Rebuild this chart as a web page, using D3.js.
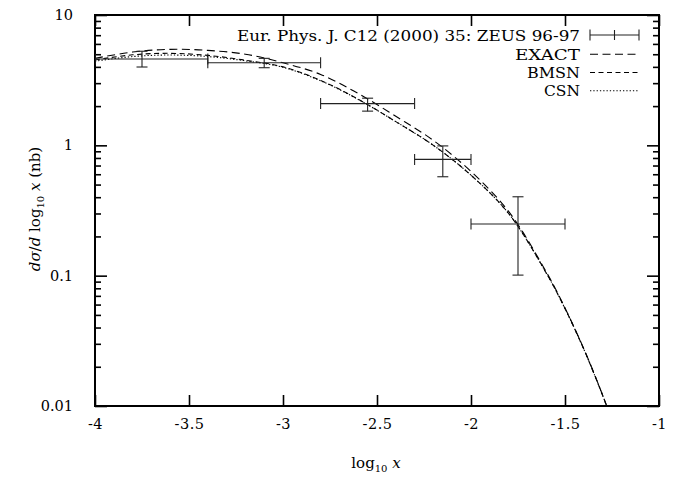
<!DOCTYPE html>
<html><head><meta charset="utf-8">
<script src="https://cdn.jsdelivr.net/npm/d3@7"></script>
</head><body style="margin:0;background:#fff"><svg id="c" width="679" height="482"></svg>
<script>
// ZEUS data points
const dataX    = [-3.75, -3.1, -2.55, -2.15, -1.75];
const dataXlo  = [-4.0, -3.4, -2.8, -2.3, -2.0];
const dataXhi  = [-3.4, -2.8, -2.3, -2.0, -1.5];
const dataY    = [4.6, 4.3, 2.09, 0.78, 0.249];
const dataYlo  = [3.99, 3.94, 1.83, 0.574, 0.101];
const dataYhi  = [5.27, 4.65, 2.30, 0.99, 0.403];
// theory curves
const curveX   = [-4, -3.8, -3.6, -3.4, -3.2, -3.0, -2.8, -2.6, -2.4, -2.2, -2.0, -1.8, -1.6, -1.5, -1.4, -1.331, -1.278];
const exact    = [4.65, 5.2, 5.45, 5.35, 5.0, 4.3, 3.5, 2.5, 1.67, 1.09, 0.63, 0.311, 0.107, 0.0566, 0.0275, 0.0158, 0.01];
const bmsn     = [4.52, 4.95, 5.08, 4.9, 4.5, 4.0, 3.15, 2.26, 1.52, 1.0, 0.59, 0.30, 0.105, 0.0560, 0.0273, 0.0157, 0.01];
const csn      = [4.42, 4.8, 4.93, 4.8, 4.45, 3.97, 3.13, 2.25, 1.52, 1.0, 0.59, 0.30, 0.105, 0.0560, 0.0273, 0.0157, 0.01];
const xTicks   = [-4, -3.5, -3, -2.5, -2, -1.5, -1];
const xTickLabels = ["-4", "-3.5", "-3", "-2.5", "-2", "-1.5", "-1"];
const yTicks   = [0.01, 0.1, 1, 10];
const yTickLabels = ["0.01", "0.1", "1", "10"];
const legendLabels = ["Eur. Phys. J. C12 (2000) 35: ZEUS 96-97", "EXACT", "BMSN", "CSN"];

const FONT = '"DejaVu Serif"';
const L = 95, R = 659, T = 15, B = 406;
const svg = d3.select("#c");
const x = d3.scaleLinear().domain([-4, -1]).range([L, R]);
const y = d3.scaleLog().domain([0.01, 10]).range([B, T]);

svg.append("defs").append("clipPath").attr("id", "clip")
  .append("rect").attr("x", L).attr("y", T).attr("width", R - L).attr("height", B - T);

const minor = [];
[0.01, 0.1, 1].forEach(d => { for (let k = 2; k <= 9; k++) minor.push(d * k); });

const axisStyle = g => g.attr("font-family", null).attr("font-size", null)
  .call(s => s.select(".domain").remove())
  .call(s => s.selectAll("line").attr("stroke", "#000").attr("stroke-width", 1.6));
const textStyle = g => g.selectAll("text").style("font-family", FONT).style("font-size", "14.5px")
  .style("letter-spacing", "0.5px").attr("fill", "#000");

// bottom
svg.append("g").attr("transform", `translate(0,${B})`)
  .call(d3.axisBottom(x).tickValues(xTicks).tickSize(-11).tickPadding(13).tickFormat((d, i) => xTickLabels[i]))
  .call(axisStyle).call(textStyle);
// top
svg.append("g").attr("transform", `translate(0,${T})`)
  .call(d3.axisTop(x).tickValues(xTicks).tickSize(-11).tickFormat(""))
  .call(axisStyle);
// left
svg.append("g").attr("transform", `translate(${L},0)`)
  .call(d3.axisLeft(y).tickValues(yTicks).tickSize(-12).tickPadding(22).tickFormat((d, i) => yTickLabels[i]))
  .call(axisStyle).call(textStyle).call(g => g.selectAll("text").style("letter-spacing", "0px"));
svg.append("g").attr("transform", `translate(${L},0)`)
  .call(d3.axisLeft(y).tickValues(minor).tickSize(-6).tickFormat(""))
  .call(axisStyle);
// right
svg.append("g").attr("transform", `translate(${R},0)`)
  .call(d3.axisRight(y).tickValues(yTicks).tickSize(-12).tickFormat(""))
  .call(axisStyle);
svg.append("g").attr("transform", `translate(${R},0)`)
  .call(d3.axisRight(y).tickValues(minor).tickSize(-6).tickFormat(""))
  .call(axisStyle);

// frame
svg.append("rect").attr("x", L).attr("y", T).attr("width", R - L).attr("height", B - T)
  .attr("fill", "none").attr("stroke", "#000").attr("stroke-width", 2);

// curves
const plot = svg.append("g").attr("clip-path", "url(#clip)");
const line = d3.line().x((d, i) => x(curveX[i])).y(d => y(d)).curve(d3.curveCatmullRom);
const series = [
  {v: exact, dash: "8,4.5"},
  {v: bmsn, dash: "5,3.5"},
  {v: csn, dash: "1.3,2"}
];
series.forEach(s => plot.append("path").attr("d", line(s.v)).attr("fill", "none")
  .attr("stroke", "#000").attr("stroke-width", 1.1).attr("stroke-dasharray", s.dash));

// error bars
const cap = 5.5;
const eb = plot.append("g").attr("stroke", "#222").attr("stroke-width", 1.1);
dataX.forEach((xv, i) => {
  const cx = x(xv), cy = y(dataY[i]);
  const x0 = x(dataXlo[i]), x1 = x(dataXhi[i]);
  const y0 = y(dataYlo[i]), y1 = y(dataYhi[i]);
  eb.append("line").attr("x1", x0).attr("x2", x1).attr("y1", cy).attr("y2", cy);
  eb.append("line").attr("x1", x0).attr("x2", x0).attr("y1", cy - cap).attr("y2", cy + cap);
  eb.append("line").attr("x1", x1).attr("x2", x1).attr("y1", cy - cap).attr("y2", cy + cap);
  eb.append("line").attr("x1", cx).attr("x2", cx).attr("y1", y0).attr("y2", y1);
  eb.append("line").attr("x1", cx - cap).attr("x2", cx + cap).attr("y1", y0).attr("y2", y0);
  eb.append("line").attr("x1", cx - cap).attr("x2", cx + cap).attr("y1", y1).attr("y2", y1);
});

// legend
const legRows = [35, 54.3, 72.5, 90.8];
const legWidths = [343, 65, 53, 36];
const lx0 = 590, lx1 = 639, tx = 580;
const lg = svg.append("g");
legendLabels.forEach((t, i) => {
  lg.append("text").attr("x", tx - legWidths[i]).attr("y", legRows[i] + 5.5)
    .style("font-family", FONT).style("font-size", "14.5px")
    .attr("textLength", legWidths[i]).attr("lengthAdjust", "spacingAndGlyphs").text(t);
});
const ly = legRows[0];
lg.append("g").attr("stroke", "#222").attr("stroke-width", 1.1).call(g => {
  g.append("line").attr("x1", lx0).attr("x2", lx1).attr("y1", ly).attr("y2", ly);
  g.append("line").attr("x1", lx0).attr("x2", lx0).attr("y1", ly - cap).attr("y2", ly + cap);
  g.append("line").attr("x1", lx1).attr("x2", lx1).attr("y1", ly - cap).attr("y2", ly + cap);
  g.append("line").attr("x1", (lx0 + lx1) / 2).attr("x2", (lx0 + lx1) / 2).attr("y1", ly - 5).attr("y2", ly + 5);
});
series.forEach((s, i) => lg.append("line").attr("x1", lx0).attr("x2", lx1)
  .attr("y1", legRows[i + 1]).attr("y2", legRows[i + 1])
  .attr("stroke", "#000").attr("stroke-width", 1.1).attr("stroke-dasharray", s.dash));

// axis titles
svg.append("text").attr("x", 376).attr("y", 468).attr("text-anchor", "middle")
  .style("font-family", FONT).style("font-size", "15px")
  .html('log<tspan style="font-size:10px" dy="4">10</tspan><tspan dy="-4" font-style="italic"> x</tspan>');
svg.append("text").attr("transform", "translate(40,209) rotate(-90)").attr("text-anchor", "middle")
  .style("font-family", FONT).style("font-size", "15px")
  .html('<tspan font-style="italic">dσ</tspan>/<tspan font-style="italic">d</tspan> log<tspan style="font-size:10px" dy="4">10</tspan><tspan dy="-4" font-style="italic"> x</tspan> (nb)');
</script></body></html>
